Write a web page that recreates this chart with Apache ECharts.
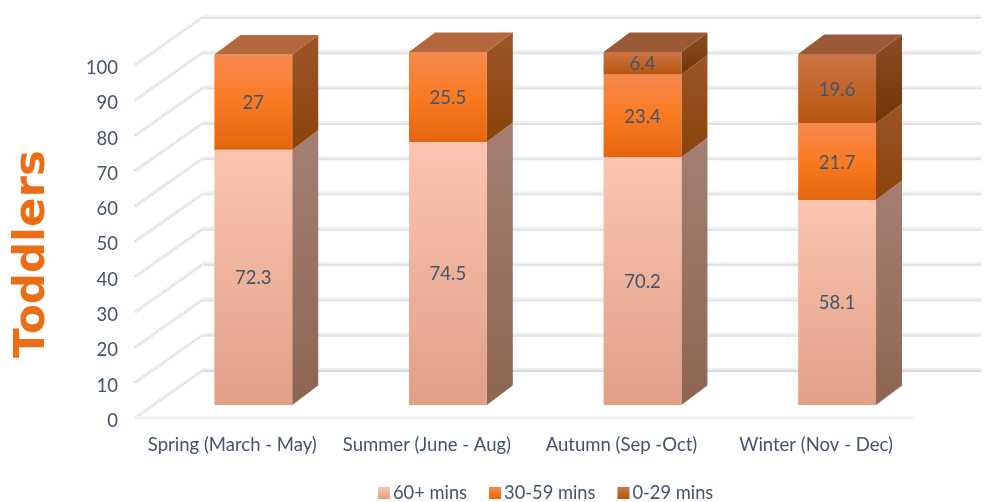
<!DOCTYPE html>
<html>
<head>
<meta charset="utf-8">
<style>html,body{margin:0;padding:0;background:#fff}#c{width:984px;height:502px}</style>
<script src="https://cdn.jsdelivr.net/npm/echarts@6/dist/echarts.min.js"></script>
</head>
<body>
<div id="c"></div>
<script>
const categories = ['Spring (March - May)', 'Summer (June - Aug)', 'Autumn (Sep -Oct)', 'Winter (Nov - Dec)'];
const values60 = [72.3, 74.5, 70.2, 58.1];
const values30 = [27, 25.5, 23.4, 21.7];
const values0 = [0, 0, 6.4, 19.6];
const yTicks = [0, 10, 20, 30, 40, 50, 60, 70, 80, 90, 100];
const axisColor = '#44546a';
const fontName = 'Lato, "Open Sans", sans-serif';

const grad = (a, b, c) => new echarts.graphic.LinearGradient(0, 0, 0, 1,
  c ? [{offset: 0, color: a}, {offset: .5, color: b}, {offset: 1, color: c}]
    : [{offset: 0, color: a}, {offset: 1, color: b}]);

// 3D look: floor depth and the bar's place in it, in pixels
const LIFT = -3;            // plane sits slightly above the tick labels' grid
const FLOOR = [68, -48];
const FRONT = [21, -13 + LIFT];
const DEPTH = [26, -19.5];

const chart = echarts.init(document.getElementById('c'));

function stackSeries(name, values, bases, face, side, top, isTop) {
  return {
    name, type: 'custom', coordinateSystem: 'cartesian2d', z: 5,
    itemStyle: {color: face},
    encode: {x: 0, y: [1, 2]},
    data: values.map((v, i) => [i, bases[i], bases[i] + v, v]),
    renderItem(params, api) {
      const v = api.value(3);
      if (!v) return {type: 'group', children: []};
      const i = api.value(0);
      const w = api.size([1, 0])[0] * 0.4;
      const c0 = api.coord([i, api.value(1)]);
      const c1 = api.coord([i, api.value(2)]);
      const x0 = c0[0] + FRONT[0] - w / 2, x1 = x0 + w;
      const yb = c0[1] + FRONT[1], yt = c1[1] + FRONT[1];
      const [dx, dy] = DEPTH;
      const children = [
        {type: 'polygon', shape: {points: [[x1, yb], [x1 + dx, yb + dy], [x1 + dx, yt + dy], [x1, yt]]}, style: {fill: side}},
        {type: 'rect', shape: {x: x0, y: yt, width: w, height: yb - yt}, style: {fill: face}}
      ];
      if (isTop(i)) {
        children.push({type: 'polygon', shape: {points: [[x0, yt], [x0 + dx, yt + dy], [x1 + dx, yt + dy], [x1, yt]]}, style: {fill: top}});
      }
      children.push({type: 'text', z2: 10, style: {
        text: String(v), x: (x0 + x1) / 2, y: (yt + yb) / 2 + 1, align: 'center', verticalAlign: 'middle',
        fill: axisColor, font: '18.5px ' + fontName
      }});
      return {type: 'group', children};
    }
  };
}

const base30 = values60.slice();
const base0 = values60.map((v, i) => v + values30[i]);

const wallSeries = {
  type: 'custom', coordinateSystem: 'cartesian2d', silent: true, z: 1,
  encode: {y: 0},
  data: yTicks.map(t => [t]),
  renderItem(params, api) {
    const val = api.value(0);
    const y = api.coord([0, val])[1] + LIFT;
    const g = params.coordSys;
    const lx = g.x, rx = g.x + g.width;
    const zero = val === 0;
    const by = y + FLOOR[1];
    return {type: 'group', children: [
      {type: 'line', shape: {x1: lx, y1: y, x2: lx + FLOOR[0], y2: by},
        style: {stroke: '#d9d9d9', lineWidth: 3, lineDash: [1.5, 1]}},
      {type: 'line', shape: {x1: lx + FLOOR[0], y1: by - 1, x2: rx + FLOOR[0], y2: by - 1},
        style: {stroke: '#eff0f4', lineWidth: 2}},
      {type: 'line', shape: {x1: lx + FLOOR[0], y1: by + 1, x2: rx + FLOOR[0], y2: by + 1},
        style: {stroke: zero ? '#d6d8dc' : '#e0e2e8', lineWidth: 2}}
    ].concat(zero ? [
      {type: 'line', shape: {x1: lx, y1: y, x2: rx, y2: y}, style: {stroke: '#edf0f2', lineWidth: 3}}
    ] : [])};
  }
};

chart.setOption({
  animation: false,
  backgroundColor: '#fff',
  grid: {left: 135, top: 68, width: 778.4, height: 353},
  legend: {
    left: 373, top: 479, itemWidth: 12, itemHeight: 12, itemGap: 22, icon: 'rect',
    selectedMode: false,
    textStyle: {color: axisColor, fontSize: 18.3, fontFamily: fontName, padding: [0, 0, 0, -2]},
    data: ['60+ mins', '30-59 mins', '0-29 mins']
  },
  xAxis: {
    type: 'category', data: categories,
    axisLine: {show: false}, axisTick: {show: false}, splitLine: {show: false},
    axisLabel: {color: axisColor, fontSize: 18.5, fontFamily: fontName, margin: 15, interval: 0}
  },
  yAxis: {
    type: 'value', min: 0, max: 100, interval: 10,
    axisLine: {show: false}, axisTick: {show: false}, splitLine: {show: false},
    axisLabel: {color: axisColor, fontSize: 18.5, fontFamily: fontName, margin: 17}
  },
  graphic: [{
    type: 'text', x: 10.5, y: 358, rotation: Math.PI / 2,
    style: {text: 'Toddlers', fill: '#e96e17', font: 'bold 43.5px "DejaVu Sans", sans-serif', align: 'left', verticalAlign: 'top'}
  }],
  series: [
    wallSeries,
    stackSeries('60+ mins', values60, values60.map(() => 0),
      grad('#fbc5b0', '#e19f86'), grad('#a47f72', '#8e6552'), '#b5683e', () => false),
    stackSeries('30-59 mins', values30, base30,
      grad('#f68a50', '#f97a21', '#e4650f'), grad('#9c5528', '#8a430a'), '#b5683e', i => !values0[i]),
    stackSeries('0-29 mins', values0, base0,
      grad('#cc7446', '#b8560f'), grad('#8a4e28', '#6f3506'), '#9a5a38', () => true)
  ]
});
</script>
</body>
</html>
